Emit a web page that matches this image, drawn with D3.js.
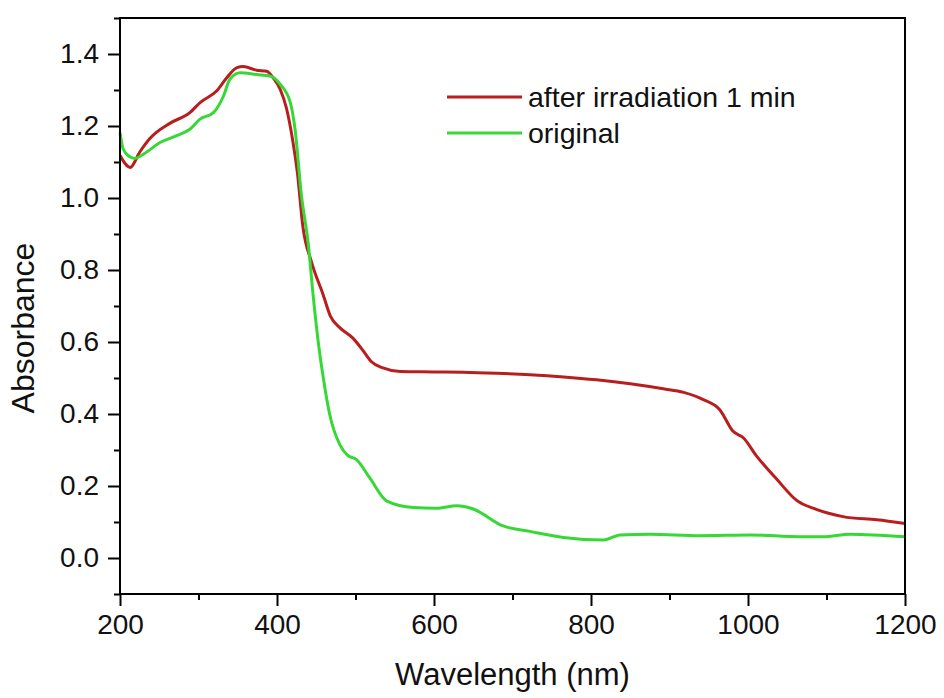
<!DOCTYPE html>
<html>
<head>
<meta charset="utf-8">
<script src="https://cdn.jsdelivr.net/npm/d3@7"></script>
<style>
	body { margin: 0; background: #fff; }
	#chart { width: 944px; height: 698px; }
	text { font-family: "Liberation Sans", Arial, sans-serif; fill: #111; }
</style>
</head>
<body>
<div id="chart"></div>
<script>
"use strict"

// wavelength (nm) / absorbance
let irrWavelength = [200, 213, 225, 238, 264, 289, 302, 323, 336, 349, 357, 374, 387, 395, 404, 412, 420, 426,
	433, 444, 459, 468, 480, 497, 510, 520, 535, 557, 600, 637, 680, 722, 765, 807, 850, 892, 918, 943,
	964, 981, 994, 1011, 1037, 1062, 1087, 1121, 1164, 1200];
let irrAbsorbance = [1.118, 1.085, 1.127, 1.165, 1.208, 1.237, 1.265, 1.297, 1.334, 1.362, 1.365, 1.355, 1.352, 1.334, 1.302, 1.250, 1.160, 1.070,
	0.920, 0.822, 0.730, 0.672, 0.640, 0.610, 0.575, 0.546, 0.528, 0.518, 0.517, 0.516, 0.513, 0.509, 0.503, 0.495, 0.484, 0.470, 0.460, 0.440,
	0.412, 0.352, 0.334, 0.283, 0.218, 0.160, 0.135, 0.115, 0.106, 0.096];

let origWavelength = [200, 204, 212, 219, 230, 251, 272, 289, 302, 319, 332, 340, 353, 374, 391, 404, 417, 423,
	431, 440, 446, 453, 459, 467, 480, 490, 501, 518, 540, 574, 603, 629, 650, 688, 722, 765, 816, 837,
	875, 939, 1003, 1066, 1096, 1130, 1200];
let origAbsorbance = [1.182, 1.136, 1.115, 1.110, 1.122, 1.154, 1.173, 1.191, 1.219, 1.237, 1.284, 1.330, 1.348, 1.343, 1.339, 1.316, 1.265, 1.191,
	1.010, 0.869, 0.730, 0.592, 0.500, 0.400, 0.315, 0.285, 0.274, 0.223, 0.158, 0.140, 0.138, 0.145, 0.136, 0.089, 0.074, 0.057, 0.050, 0.064,
	0.066, 0.062, 0.064, 0.059, 0.059, 0.066, 0.059];

let seriesNames = ["after irradiation 1 min", "original"];
let seriesColors = ["#b81e1e", "#36d836"];

let xTicks = [200, 400, 600, 800, 1000, 1200];
let xMinorTicks = [300, 500, 700, 900, 1100];
let yTicks = [0.0, 0.2, 0.4, 0.6, 0.8, 1.0, 1.2, 1.4];
let yMinorTicks = [-0.1, 0.1, 0.3, 0.5, 0.7, 0.9, 1.1, 1.3, 1.5];

let totalWidth = 944, totalHeight = 698;
let margin = { left: 120, right: 39, top: 18, bottom: 104 };
let width = totalWidth - margin.left - margin.right;
let height = totalHeight - margin.top - margin.bottom;

let svg = d3.select("#chart").append("svg")
	.attr("width", totalWidth)
	.attr("height", totalHeight);

let g = svg.append("g")
	.attr("transform", `translate(${margin.left},${margin.top})`);

let xScale = d3.scaleLinear().domain([200, 1200]).range([0, width]);
let yScale = d3.scaleLinear().domain([-0.1, 1.5]).range([height, 0]);

let series = [
	{ name: seriesNames[0], color: seriesColors[0], values: irrWavelength.map((w, i) => ({ x: w, y: irrAbsorbance[i] })) },
	{ name: seriesNames[1], color: seriesColors[1], values: origWavelength.map((w, i) => ({ x: w, y: origAbsorbance[i] })) },
];

let line = d3.line()
	.x(d => xScale(d.x))
	.y(d => yScale(d.y))
	.curve(d3.curveMonotoneX);

// draw original first so the red one sits underneath where they overlap? no - green on top like the figure
g.selectAll(".series")
	.data(series)
	.enter().append("path")
		.attr("class", "series")
		.attr("d", d => line(d.values))
		.attr("fill", "none")
		.attr("stroke", d => d.color)
		.attr("stroke-width", 3)
		.attr("stroke-linejoin", "round");

// axes
function styleAxis(sel) {
	sel.select(".domain").remove();
	sel.selectAll(".tick line").attr("stroke", "#000").attr("stroke-width", 2);
	sel.selectAll(".tick text").attr("font-size", 28).attr("fill", "#111");
}

g.append("g")
	.attr("transform", `translate(0,${height})`)
	.call(d3.axisBottom(xScale).tickValues(xTicks).tickFormat(d3.format("d")).tickSize(12).tickPadding(8))
	.call(styleAxis);

g.append("g")
	.attr("transform", `translate(0,${height})`)
	.call(d3.axisBottom(xScale).tickValues(xMinorTicks).tickFormat("").tickSize(6))
	.call(styleAxis);

g.append("g")
	.call(d3.axisLeft(yScale).tickValues(yTicks).tickFormat(d3.format(".1f")).tickSize(12).tickPadding(9))
	.call(styleAxis);

g.append("g")
	.call(d3.axisLeft(yScale).tickValues(yMinorTicks).tickFormat("").tickSize(6))
	.call(styleAxis);

// frame
g.append("rect")
	.attr("x", 0).attr("y", 0)
	.attr("width", width).attr("height", height)
	.attr("fill", "none")
	.attr("stroke", "#000")
	.attr("stroke-width", 2);

// axis titles
svg.append("text")
	.attr("x", margin.left + width / 2)
	.attr("y", 685)
	.attr("text-anchor", "middle")
	.attr("font-size", 31)
	.text("Wavelength (nm)");

svg.append("text")
	.attr("transform", "translate(34,328) rotate(-90)")
	.attr("text-anchor", "middle")
	.attr("font-size", 32)
	.text("Absorbance");

// legend
let legend = svg.append("g")
	.selectAll("g")
	.data(series)
	.enter().append("g")
		.attr("transform", (d, i) => `translate(447,${97 + i * 36})`);

legend.append("line")
	.attr("x1", 0).attr("x2", 75)
	.attr("stroke", d => d.color)
	.attr("stroke-width", 3);

legend.append("text")
	.attr("x", 81)
	.attr("y", 10)
	.attr("font-size", 28.5)
	.text(d => d.name);
</script>
</body>
</html>
